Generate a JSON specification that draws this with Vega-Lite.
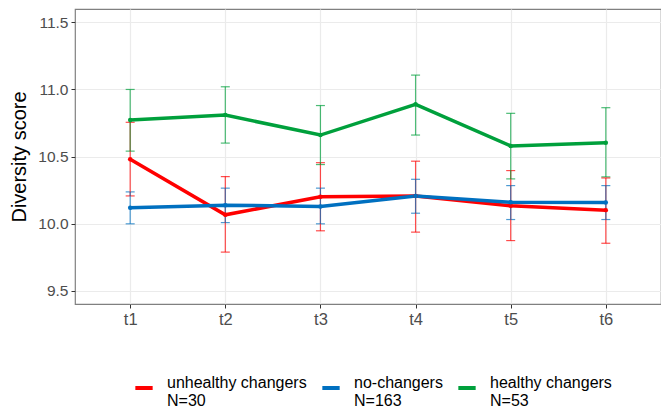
{
  "$schema": "https://vega.github.io/schema/vega-lite/v6.json",
  "width": 586,
  "height": 295,
  "autosize": {"type": "none"},
  "padding": {"left": 75, "top": 9, "right": 0, "bottom": 106},
  "background": "white",
  "config": {
    "font": "Liberation Sans",
    "view": {"stroke": "#808080", "strokeWidth": 1.2},
    "axis": {
      "domain": false,
      "tickColor": "#333333",
      "tickSize": 4,
      "labelColor": "#4D4D4D",
      "labelFontSize": 15.5,
      "labelPadding": 3,
      "gridColor": "#EBEBEB",
      "gridWidth": 1.2
    },
    "legend": {
      "labelFontSize": 16,
      "labelColor": "#000000",
      "labelLimit": 300,
      "padding": 0
    }
  },
  "data": {
    "values": [
      {"t": "t1", "group": "unhealthy", "mean": 10.48, "lo": 10.206, "hi": 10.755},
      {"t": "t2", "group": "unhealthy", "mean": 10.065, "lo": 9.787, "hi": 10.35},
      {"t": "t3", "group": "unhealthy", "mean": 10.2, "lo": 9.946, "hi": 10.454},
      {"t": "t4", "group": "unhealthy", "mean": 10.206, "lo": 9.936, "hi": 10.465},
      {"t": "t5", "group": "unhealthy", "mean": 10.132, "lo": 9.873, "hi": 10.395},
      {"t": "t6", "group": "unhealthy", "mean": 10.1, "lo": 9.853, "hi": 10.34},
      {"t": "t1", "group": "no", "mean": 10.117, "lo": 9.998, "hi": 10.236},
      {"t": "t2", "group": "no", "mean": 10.137, "lo": 10.007, "hi": 10.264},
      {"t": "t3", "group": "no", "mean": 10.127, "lo": 9.998, "hi": 10.264},
      {"t": "t4", "group": "no", "mean": 10.206, "lo": 10.077, "hi": 10.33},
      {"t": "t5", "group": "no", "mean": 10.159, "lo": 10.03, "hi": 10.283},
      {"t": "t6", "group": "no", "mean": 10.157, "lo": 10.03, "hi": 10.283},
      {"t": "t1", "group": "healthy", "mean": 10.772, "lo": 10.54, "hi": 11.0},
      {"t": "t2", "group": "healthy", "mean": 10.809, "lo": 10.6, "hi": 11.02},
      {"t": "t3", "group": "healthy", "mean": 10.66, "lo": 10.44, "hi": 10.88},
      {"t": "t4", "group": "healthy", "mean": 10.889, "lo": 10.66, "hi": 11.107},
      {"t": "t5", "group": "healthy", "mean": 10.579, "lo": 10.333, "hi": 10.822},
      {"t": "t6", "group": "healthy", "mean": 10.603, "lo": 10.348, "hi": 10.864}
    ]
  },
  "encoding": {
    "x": {
      "field": "t",
      "type": "ordinal",
      "scale": {"type": "point", "padding": 0.58},
      "axis": {"title": null, "labelAngle": 0, "grid": true, "labelFontSize": 16.5}
    },
    "color": {
      "field": "group",
      "type": "nominal",
      "scale": {
        "domain": ["unhealthy", "no", "healthy"],
        "range": ["#FF0000", "#0070C0", "#00A03C"]
      },
      "legend": {
        "title": null,
        "orient": "none",
        "legendX": 58,
        "legendY": 368,
        "direction": "horizontal",
        "symbolType": "stroke",
        "symbolSize": 300,
        "symbolStrokeWidth": 4,
        "symbolOpacity": 1,
        "labelOffset": 12,
        "labelBaseline": "alphabetic",
        "labelLineHeight": 16,
        "columnPadding": 7,
        "labelExpr": "datum.value === 'unhealthy' ? ['unhealthy changers', 'N=30'] : datum.value === 'no' ? ['no-changers', 'N=163'] : ['healthy changers', 'N=53']"
      }
    }
  },
  "layer": [
    {
      "mark": {"type": "errorbar", "thickness": 1.2, "ticks": {"size": 9, "thickness": 1.2}, "opacity": 0.7},
      "encoding": {
        "y": {
          "field": "lo",
          "type": "quantitative",
          "scale": {"domain": [9.4, 11.6], "nice": false, "zero": false},
          "title": "Diversity score",
          "axis": {
            "values": [9.5, 9.75, 10, 10.25, 10.5, 10.75, 11, 11.25, 11.5],
            "labelExpr": "datum.value % 0.5 === 0 ? format(datum.value, '.1f') : ''",
            "tickOpacity": {"condition": {"test": "datum.value % 0.5 !== 0", "value": 0}, "value": 1},
            "gridWidth": {"condition": {"test": "datum.value % 0.5 !== 0", "value": 0.7}, "value": 1.2},
            "titleFontSize": 20,
            "titleFontWeight": "normal",
            "titleColor": "#000000",
            "titlePadding": 8
          }
        },
        "y2": {"field": "hi"}
      }
    },
    {
      "mark": {"type": "line", "strokeWidth": 3.5, "point": {"size": 20, "filled": true}},
      "encoding": {
        "y": {"field": "mean", "type": "quantitative"}
      }
    }
  ]
}
